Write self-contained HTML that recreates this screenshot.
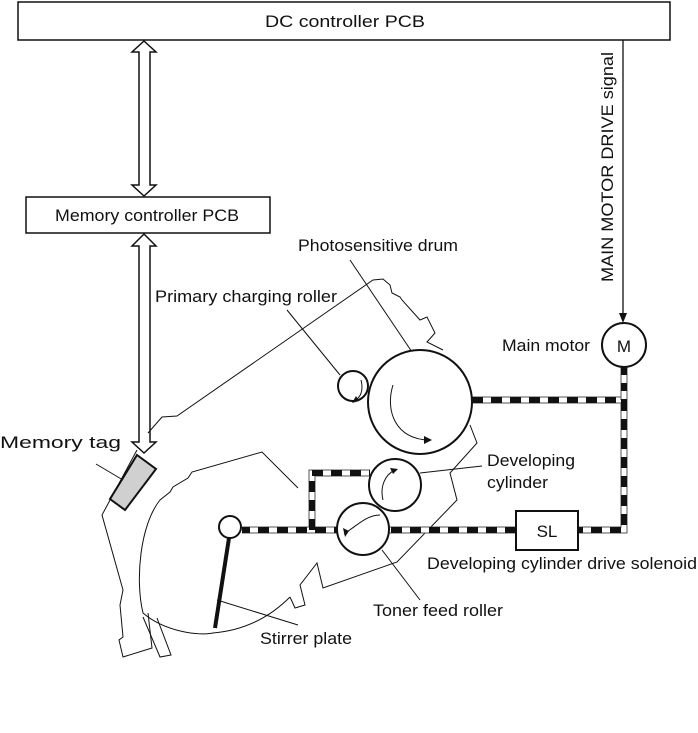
<!DOCTYPE html>
<html><head><meta charset="utf-8"><style>
html,body{margin:0;padding:0;background:#fff;}
svg{display:block;}
text{font-family:"Liberation Sans",sans-serif;font-size:17px;fill:#111;}
</style></head><body>
<svg width="698" height="733" viewBox="0 0 698 733" xmlns="http://www.w3.org/2000/svg">
<g fill="none" stroke="#111" stroke-width="1.5">
<rect x="18" y="2" width="652" height="38"/>
<rect x="26" y="197" width="244" height="36"/>
</g>
<text x="265" y="27" textLength="160" lengthAdjust="spacingAndGlyphs">DC controller PCB</text>
<text x="55" y="221" textLength="184" lengthAdjust="spacingAndGlyphs">Memory controller PCB</text>
<!-- double arrows -->
<g fill="#fff" stroke="#111" stroke-width="1.5">
<polygon points="144,41 156,52 150,52 150,185 156,185 144,196 132,185 139,185 139,52 132,52"/>
<polygon points="144,234 156,246 150,246 150,442 156,442 144,453 132,442 139,442 139,246 132,246"/>
</g>
<!-- memory tag -->
<polygon points="137,455 156,469 125,510 110,499" fill="#d0d0d0" stroke="#111" stroke-width="2"/>
<!-- signal line -->
<line x1="623" y1="40" x2="623" y2="316" stroke="#111" stroke-width="1.3"/>
<polygon points="619,313 627,313 623,323" fill="#111"/>
<text transform="translate(613,282) rotate(-90)" textLength="230" lengthAdjust="spacingAndGlyphs">MAIN MOTOR DRIVE signal</text>
<!-- housing outlines -->
<g fill="none" stroke="#111" stroke-width="1">
<polyline points="148,433 162,417 177,416 373,280 383,279 390,285 392,293 400,297 402,300 420,320 427,317 435,333 427,342 443,350"/>
<polyline points="470,425 477,443 450,473 457,500 397,562 323,588 317,563 300,585 302,593 305,605 295,608 290,597"/>
<path d="M298,488 L262,452 L192,472 L188,478 L173,487 L170,492 L160,500 C140,525 135,580 143,613 C165,632 200,636 213,633 C250,630 275,612 290,597"/>
<polyline points="137,450 102,515 123,590 120,605 123,637 119,640 123,657 152,648 148,613"/>
<polyline points="143,617 160,657 171,655 157,618"/>
<line x1="287" y1="310" x2="340" y2="375"/>
<line x1="350" y1="260" x2="412" y2="352"/>
<line x1="420" y1="473" x2="482" y2="466"/>
<line x1="382" y1="550" x2="420" y2="600"/>
<line x1="96" y1="464" x2="123" y2="480"/>
<line x1="217" y1="600" x2="298" y2="625"/>
</g>
<!-- drive lines -->
<g fill="none">
<path d="M472,400 H624 V530 H578 M516,530 H242 M312,530 V473 H370" stroke="#555" stroke-width="7"/>
<path d="M472,400 H624 V530 H578 M516,530 H242 M312,530 V473 H370" stroke="#fff" stroke-width="5"/>
<path d="M472,400 H624 V530 H578 M516,530 H242 M312,530 V473 H370" stroke="#111" stroke-width="6" stroke-dasharray="11,8"/>
<line x1="624" y1="367" x2="624" y2="400" stroke="#555" stroke-width="7"/>
<line x1="624" y1="367" x2="624" y2="400" stroke="#fff" stroke-width="5"/>
<line x1="624" y1="367" x2="624" y2="400" stroke="#111" stroke-width="6" stroke-dasharray="8,8"/>
</g>
<!-- rollers -->
<g fill="#fff" stroke="#111" stroke-width="2">
<circle cx="420" cy="402" r="52"/>
<circle cx="353" cy="386" r="15"/>
<circle cx="395" cy="485" r="26"/>
<circle cx="363" cy="529" r="26"/>
<circle cx="230" cy="527" r="11"/>
<circle cx="624" cy="345" r="22"/>
<rect x="516" y="511" width="62" height="39"/>
</g>
<line x1="229" y1="538" x2="215" y2="628" stroke="#111" stroke-width="4"/>
<!-- rotation arrows -->
<g fill="none" stroke="#111" stroke-width="1">
<path d="M393,385 C385,410 395,440 430,440"/>
<path d="M361,380 C364,392 360,398 353,402"/>
<path d="M383,500 C380,488 384,475 395,470"/>
<path d="M380,515 C368,515 360,523 344,534"/>
</g>
<g fill="#111">
<polygon points="432,440 424,436 424,444"/>
<polygon points="352,403 356,396 359,401"/>
<polygon points="398,469 390,468 393,474"/>
<polygon points="345,537 343,528 349,531"/>
</g>
<text x="624" y="352" text-anchor="middle" font-size="18">M</text>
<text x="547" y="537" text-anchor="middle" font-size="18">SL</text>
<text x="298" y="251" textLength="160" lengthAdjust="spacingAndGlyphs">Photosensitive drum</text>
<text x="155" y="302" textLength="182" lengthAdjust="spacingAndGlyphs">Primary charging roller</text>
<text x="502" y="351" textLength="88" lengthAdjust="spacingAndGlyphs">Main motor</text>
<text x="0" y="448" textLength="121" lengthAdjust="spacingAndGlyphs">Memory tag</text>
<text x="487" y="466" textLength="88" lengthAdjust="spacingAndGlyphs">Developing</text>
<text x="487" y="488" textLength="61" lengthAdjust="spacingAndGlyphs">cylinder</text>
<text x="427" y="569" textLength="270" lengthAdjust="spacingAndGlyphs">Developing cylinder drive solenoid</text>
<text x="373" y="616" textLength="130" lengthAdjust="spacingAndGlyphs">Toner feed roller</text>
<text x="260" y="644" textLength="92" lengthAdjust="spacingAndGlyphs">Stirrer plate</text>
</svg>
</body></html>
